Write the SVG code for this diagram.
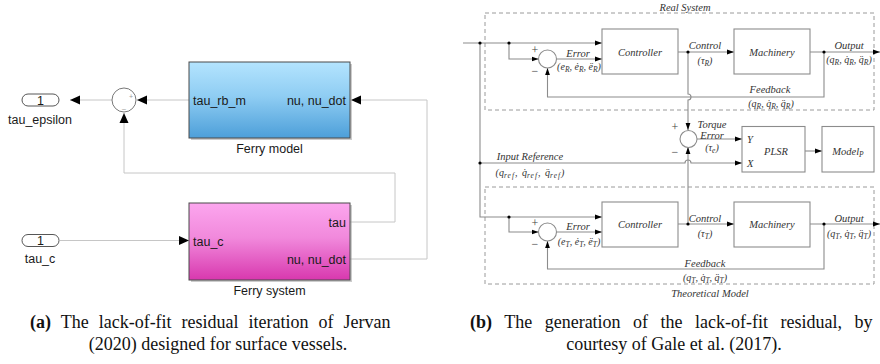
<svg xmlns="http://www.w3.org/2000/svg" width="880" height="364" viewBox="0 0 880 364">
  <defs>
    <linearGradient id="gBlue" x1="0" y1="0" x2="0" y2="1">
      <stop offset="0" stop-color="#b4e4fe"/>
      <stop offset="0.45" stop-color="#8fcdf3"/>
      <stop offset="1" stop-color="#4d9fd9"/>
    </linearGradient>
    <linearGradient id="gPink" x1="0" y1="0" x2="0" y2="1">
      <stop offset="0" stop-color="#fca6ee"/>
      <stop offset="0.45" stop-color="#f189dc"/>
      <stop offset="1" stop-color="#d838ae"/>
    </linearGradient>
    <marker id="simArrow" markerUnits="userSpaceOnUse" markerWidth="10" markerHeight="10" viewBox="0 0 10 10" refX="10" refY="5" orient="auto">
      <path d="M0,0.5 L10,5 L0,9.5 Z" fill="#000"/>
    </marker>
    <marker id="tikArrow" markerUnits="userSpaceOnUse" markerWidth="7" markerHeight="6" viewBox="0 0 7 6" refX="7" refY="3" orient="auto">
      <path d="M0,0.6 L7,3 L0,5.4 Z" fill="#000"/>
    </marker>
  </defs>
  <style>
    .sim { font-family: "Liberation Sans", Arial, sans-serif; font-size: 12.5px; fill: #1a1a1a; }
    .simLine { fill: none; stroke: #c6c6c6; stroke-width: 1; }
    .block { stroke: #4a4a4a; stroke-width: 1; }
    .port { fill: #fff; stroke: #444; stroke-width: 0.9; }
    .math { font-family: "Liberation Serif", "Times New Roman", serif; font-style: italic; font-size: 10.5px; fill: #333; }
    .small { font-size: 10.5px; }
    .tup { font-size: 10px; }
    .sub { font-size: 7.5px; }
    .wire { fill: none; stroke: #8c8c8c; stroke-width: 1.1; }
    .box { fill: #fff; stroke: #8c8c8c; stroke-width: 1.1; }
    .frame { fill: none; stroke: #9a9a9a; stroke-width: 1; stroke-dasharray: 4 3; }
    .dot { fill: #000; }
    .sign { font-family: "Liberation Serif", "Times New Roman", serif; font-size: 12px; fill: #444; }
    .caption { font-family: "Liberation Serif", "Times New Roman", serif; font-size: 18px; fill: #111; }
  </style>

  <!-- ===== (a) Simulink model ===== -->
  <g id="a-connectors">
    <path class="simLine" d="M112,100 H70" marker-end="url(#simArrow)"/>
    <path class="simLine" d="M189,100 H137" marker-end="url(#simArrow)"/>
    <path class="simLine" d="M350,259 H427 V100 H351" marker-end="url(#simArrow)"/>
    <path class="simLine" d="M350,222 H395 V173 H124 V113" marker-end="url(#simArrow)"/>
    <path class="simLine" d="M60,240.5 H189" marker-end="url(#simArrow)"/>
  </g>

  <g id="out-tau-epsilon">
    <rect class="port" x="22" y="94" width="37" height="12" rx="6"/>
    <text class="sim" x="40.5" y="104.5" text-anchor="middle">1</text>
    <text class="sim" x="40" y="124" text-anchor="middle">tau_epsilon</text>
  </g>

  <g id="sum-a">
    <circle cx="124" cy="100" r="12" fill="#fff" stroke="#555" stroke-width="0.8"/>
    <text x="131" y="99" font-family="Liberation Sans, sans-serif" font-size="7" fill="#999" text-anchor="middle">+</text>
    <text x="124" y="108" font-family="Liberation Sans, sans-serif" font-size="7" fill="#999" text-anchor="middle">_</text>
  </g>

  <g id="ferry-model">
    <rect x="191" y="64" width="161" height="76" fill="#9a9a9a" opacity="0.5"/>
    <rect class="block" x="189" y="62" width="161" height="76" fill="url(#gBlue)"/>
    <text class="sim" x="193" y="104.5">tau_rb_m</text>
    <text class="sim" x="346" y="104.5" text-anchor="end">nu, nu_dot</text>
    <text class="sim" x="269.5" y="153" text-anchor="middle">Ferry model</text>
  </g>

  <g id="ferry-system">
    <rect x="191" y="205" width="161" height="77" fill="#9a9a9a" opacity="0.5"/>
    <rect class="block" x="189" y="203" width="161" height="77" fill="url(#gPink)"/>
    <text class="sim" x="346" y="226.5" text-anchor="end">tau</text>
    <text class="sim" x="193" y="245.5">tau_c</text>
    <text class="sim" x="346" y="264" text-anchor="end">nu, nu_dot</text>
    <text class="sim" x="269.5" y="295" text-anchor="middle">Ferry system</text>
  </g>

  <g id="in-tau-c">
    <rect class="port" x="22" y="234.5" width="37" height="12" rx="6"/>
    <text class="sim" x="40.5" y="245" text-anchor="middle">1</text>
    <text class="sim" x="40" y="262.5" text-anchor="middle">tau_c</text>
  </g>

  <!-- ===== (b) block diagram ===== -->
  <g id="frames">
    <rect class="frame" x="485" y="13" width="389" height="97"/>
    <text class="math small" x="685" y="10.5" text-anchor="middle">Real System</text>
    <rect class="frame" x="485" y="187" width="389" height="97"/>
    <text class="math small" x="710" y="297" text-anchor="middle">Theoretical Model</text>
  </g>

  <g id="b-connectors">
    <!-- real system loop -->
    <path class="wire" d="M463,43 H602" marker-end="url(#tikArrow)"/>
    <path class="wire" d="M509,43 V59 H538.5" marker-end="url(#tikArrow)"/>
    <path class="wire" d="M556.5,59 H602" marker-end="url(#tikArrow)"/>
    <path class="wire" d="M678,52 H734" marker-end="url(#tikArrow)"/>
    <path class="wire" d="M810,52 H880" marker-end="url(#tikArrow)"/>
    <path class="wire" d="M824,52 V97 H547.5 V68" marker-end="url(#tikArrow)"/>
    <!-- input trunk -->
    <path class="wire" d="M480,43 V217 H602" marker-end="url(#tikArrow)"/>
    <!-- theoretical loop -->
    <path class="wire" d="M509,217 V232 H538.5" marker-end="url(#tikArrow)"/>
    <path class="wire" d="M556.5,232 H602" marker-end="url(#tikArrow)"/>
    <path class="wire" d="M678,224 H734" marker-end="url(#tikArrow)"/>
    <path class="wire" d="M810,224 H880" marker-end="url(#tikArrow)"/>
    <path class="wire" d="M824,224 V269 H547.5 V241" marker-end="url(#tikArrow)"/>
    <!-- torque error -->
    <path class="wire" d="M688,52 V94 a3,3 0 0 1 0,6 V130" marker-end="url(#tikArrow)"/>
    <path class="wire" d="M688,224 V147" marker-end="url(#tikArrow)"/>
    <path class="wire" d="M697,139 H742" marker-end="url(#tikArrow)"/>
    <path class="wire" d="M480,163 H685 a3,3 0 0 1 6,0 H742" marker-end="url(#tikArrow)"/>
    <path class="wire" d="M805,151 H822" marker-end="url(#tikArrow)"/>
  </g>

  <g id="junctions">
    <circle class="dot" cx="480" cy="43" r="1.6"/>
    <circle class="dot" cx="509" cy="43" r="1.6"/>
    <circle class="dot" cx="688" cy="52" r="1.6"/>
    <circle class="dot" cx="824" cy="52" r="1.6"/>
    <circle class="dot" cx="480" cy="163" r="1.6"/>
    <circle class="dot" cx="509" cy="217" r="1.6"/>
    <circle class="dot" cx="688" cy="224" r="1.6"/>
    <circle class="dot" cx="824" cy="224" r="1.6"/>
  </g>

  <g id="sum-real">
    <circle cx="547.5" cy="59" r="9" fill="#fff" stroke="#8c8c8c" stroke-width="1.1"/>
    <text class="sign" x="535" y="54" text-anchor="middle">+</text>
    <text class="sign" x="535" y="75" text-anchor="middle">−</text>
    <text class="math" x="578" y="56.5" text-anchor="middle">Error</text>
    <text class="math tup" x="579" y="69.5" text-anchor="middle">(e<tspan class="sub" dy="2">R</tspan><tspan dy="-2">, ė</tspan><tspan class="sub" dy="2">R</tspan><tspan dy="-2">, ë</tspan><tspan class="sub" dy="2">R</tspan><tspan dy="-2">)</tspan></text>
  </g>

  <g id="controller-real">
    <rect class="box" x="602" y="29" width="76" height="45"/>
    <text class="math" x="640" y="55.5" text-anchor="middle">Controller</text>
    <text class="math" x="705" y="49" text-anchor="middle">Control</text>
    <text class="math tup" x="705" y="63.5" text-anchor="middle">(τ<tspan class="sub" dy="2">R</tspan><tspan dy="-2">)</tspan></text>
  </g>

  <g id="machinery-real">
    <rect class="box" x="734" y="29" width="76" height="45"/>
    <text class="math" x="772" y="55.5" text-anchor="middle">Machinery</text>
    <text class="math" x="849" y="49" text-anchor="middle">Output</text>
    <text class="math tup" x="849" y="63" text-anchor="middle">(q<tspan class="sub" dy="2">R</tspan><tspan dy="-2">, q̇</tspan><tspan class="sub" dy="2">R</tspan><tspan dy="-2">, q̈</tspan><tspan class="sub" dy="2">R</tspan><tspan dy="-2">)</tspan></text>
    <text class="math" x="770" y="93" text-anchor="middle">Feedback</text>
    <text class="math tup" x="771" y="107" text-anchor="middle">(q<tspan class="sub" dy="2">R</tspan><tspan dy="-2">, q̇</tspan><tspan class="sub" dy="2">R</tspan><tspan dy="-2">, q̈</tspan><tspan class="sub" dy="2">R</tspan><tspan dy="-2">)</tspan></text>
  </g>

  <g id="torque-sum">
    <circle cx="688.5" cy="139" r="8.5" fill="#fff" stroke="#8c8c8c" stroke-width="1.1"/>
    <text class="sign" x="675" y="131" text-anchor="middle">+</text>
    <text class="sign" x="675" y="156" text-anchor="middle">−</text>
    <text class="math small" x="712" y="127.5" text-anchor="middle">Torque</text>
    <text class="math small" x="712" y="138.5" text-anchor="middle">Error</text>
    <text class="math tup" x="712" y="150.5" text-anchor="middle">(τ<tspan class="sub" dy="2">e</tspan><tspan dy="-2">)</tspan></text>
  </g>

  <g id="input-reference">
    <text class="math small" x="530" y="160" text-anchor="middle">Input Reference</text>
    <text class="math tup" x="530" y="175.5" text-anchor="middle" word-spacing="2">(q<tspan class="sub" dy="2" letter-spacing="1">ref</tspan><tspan dy="-2">, q̇</tspan><tspan class="sub" dy="2" letter-spacing="1">ref</tspan><tspan dy="-2">, q̈</tspan><tspan class="sub" dy="2" letter-spacing="1">ref</tspan><tspan dy="-2">)</tspan></text>
  </g>

  <g id="plsr">
    <rect class="box" x="742" y="126.5" width="63" height="45.5"/>
    <text class="math" x="747" y="142.5">Y</text>
    <text class="math" x="747" y="166.5">X</text>
    <text class="math" x="776" y="154.5" text-anchor="middle">PLSR</text>
  </g>

  <g id="model-p">
    <rect class="box" x="822" y="126.5" width="52" height="45.5"/>
    <text class="math" x="848" y="154.5" text-anchor="middle">Model<tspan class="sub" dy="2">P</tspan></text>
  </g>

  <g id="sum-theoretical">
    <circle cx="547.5" cy="232" r="9" fill="#fff" stroke="#8c8c8c" stroke-width="1.1"/>
    <text class="sign" x="535" y="227" text-anchor="middle">+</text>
    <text class="sign" x="535" y="248" text-anchor="middle">−</text>
    <text class="math" x="578" y="229.5" text-anchor="middle">Error</text>
    <text class="math tup" x="579" y="245" text-anchor="middle">(e<tspan class="sub" dy="2">T</tspan><tspan dy="-2">, ė</tspan><tspan class="sub" dy="2">T</tspan><tspan dy="-2">, ë</tspan><tspan class="sub" dy="2">T</tspan><tspan dy="-2">)</tspan></text>
  </g>

  <g id="controller-theoretical">
    <rect class="box" x="602" y="202" width="76" height="45"/>
    <text class="math" x="640" y="228" text-anchor="middle">Controller</text>
    <text class="math" x="705" y="222" text-anchor="middle">Control</text>
    <text class="math tup" x="705" y="236.5" text-anchor="middle">(τ<tspan class="sub" dy="2">T</tspan><tspan dy="-2">)</tspan></text>
  </g>

  <g id="machinery-theoretical">
    <rect class="box" x="734" y="202" width="76" height="45"/>
    <text class="math" x="772" y="228" text-anchor="middle">Machinery</text>
    <text class="math" x="849" y="222" text-anchor="middle">Output</text>
    <text class="math tup" x="849" y="236.5" text-anchor="middle">(q<tspan class="sub" dy="2">T</tspan><tspan dy="-2">, q̇</tspan><tspan class="sub" dy="2">T</tspan><tspan dy="-2">, q̈</tspan><tspan class="sub" dy="2">T</tspan><tspan dy="-2">)</tspan></text>
    <text class="math" x="705" y="266.5" text-anchor="middle">Feedback</text>
    <text class="math tup" x="705" y="280.5" text-anchor="middle">(q<tspan class="sub" dy="2">T</tspan><tspan dy="-2">, q̇</tspan><tspan class="sub" dy="2">T</tspan><tspan dy="-2">, q̈</tspan><tspan class="sub" dy="2">T</tspan><tspan dy="-2">)</tspan></text>
  </g>

  <!-- ===== captions (first lines justified) ===== -->
  <g id="captions">
    <text class="caption" x="30" y="328" word-spacing="5.5"><tspan font-weight="bold">(a)</tspan> The lack-of-fit residual iteration of Jervan</text>
    <text class="caption" x="218" y="350" text-anchor="middle">(2020) designed for surface vessels.</text>
    <text class="caption" x="470" y="328" word-spacing="8"><tspan font-weight="bold">(b)</tspan> The generation of the lack-of-fit residual, by</text>
    <text class="caption" x="674" y="350" text-anchor="middle">courtesy of Gale et al. (2017).</text>
  </g>
</svg>
